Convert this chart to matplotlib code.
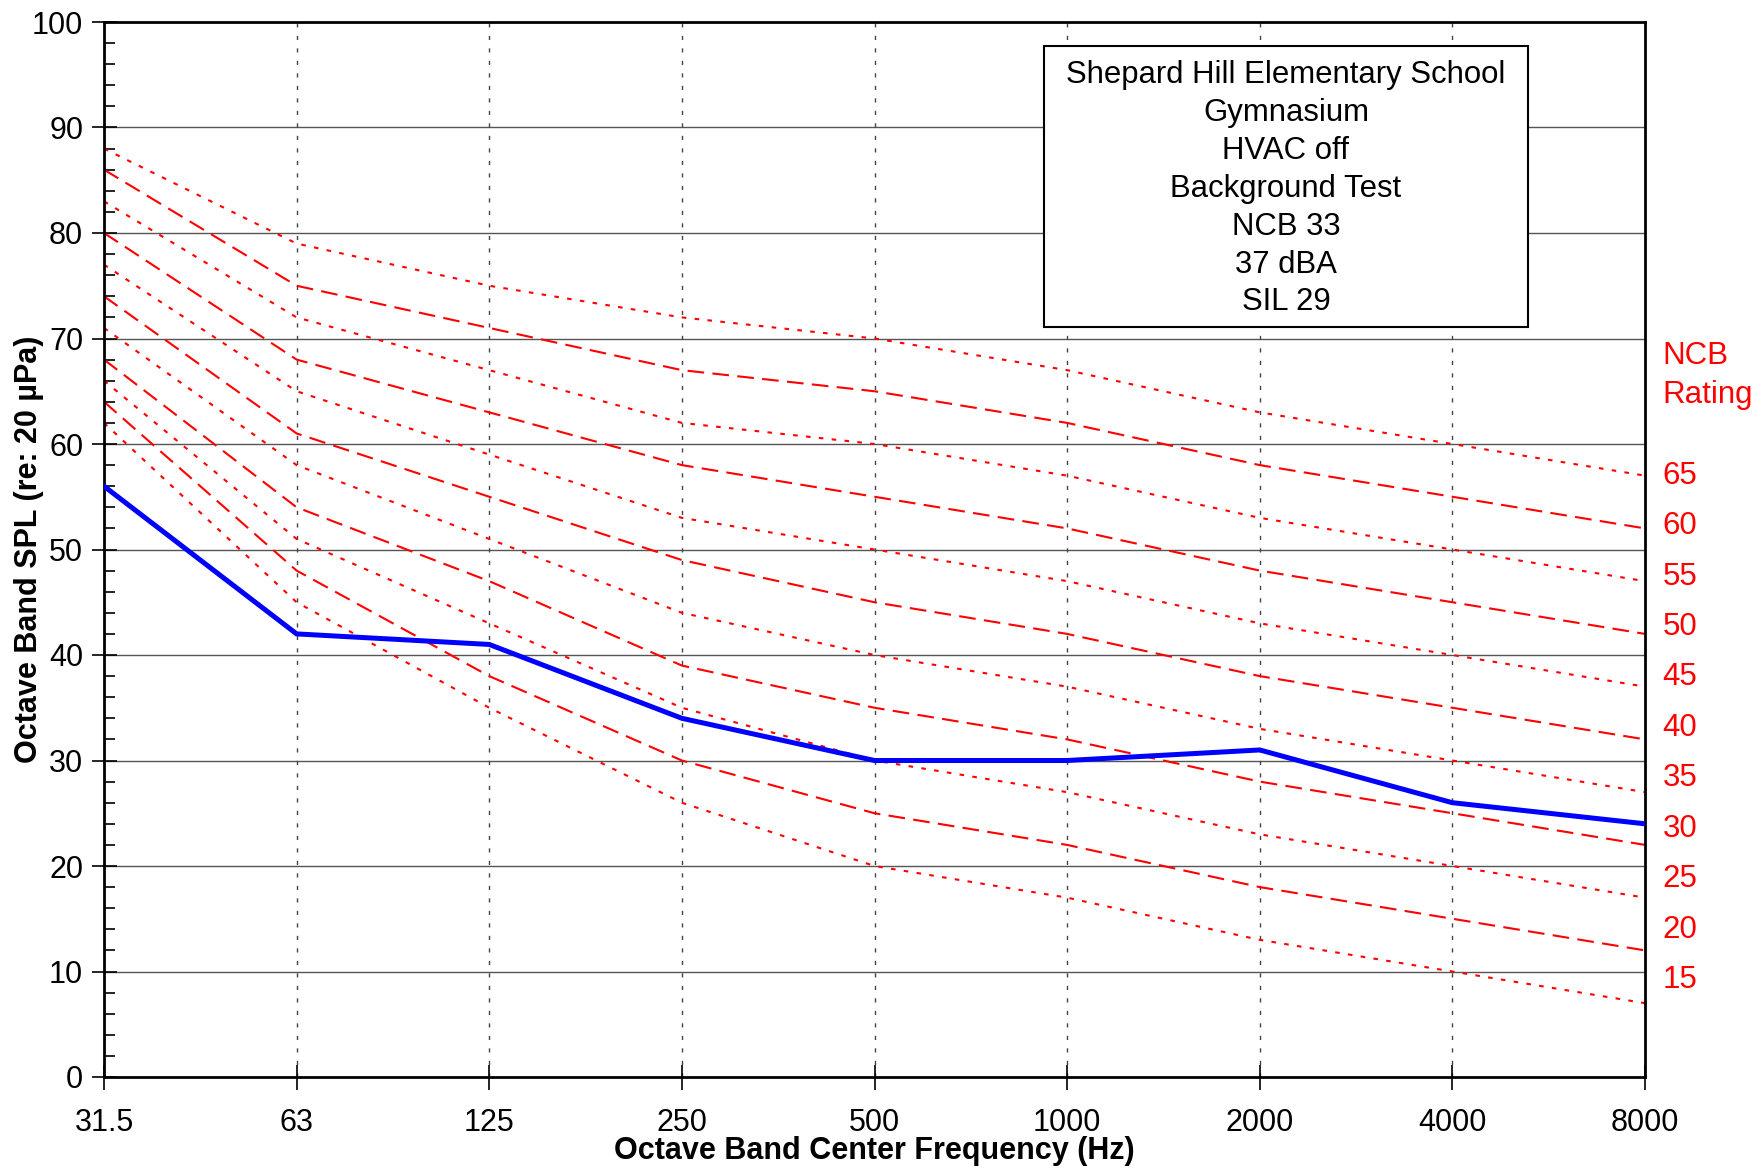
import matplotlib
matplotlib.use("Agg")
import matplotlib.pyplot as plt
from matplotlib.patches import Rectangle
from matplotlib.ticker import MultipleLocator

plt.rcParams['font.family'] = ['Liberation Sans', 'DejaVu Sans']

freq_labels = ["31.5", "63", "125", "250", "500", "1000", "2000", "4000", "8000"]
measured = [56, 42, 41, 34, 30, 30, 31, 26, 24]

ncb_levels = [65, 60, 55, 50, 45, 40, 35, 30, 25, 20, 15]
ncb65 = [88, 79, 75, 72, 70, 67, 63, 60, 57]
ncb60 = [86, 75, 71, 67, 65, 62, 58, 55, 52]
ncb55 = [83, 72, 67, 62, 60, 57, 53, 50, 47]
ncb50 = [80, 68, 63, 58, 55, 52, 48, 45, 42]
ncb45 = [77, 65, 59, 53, 50, 47, 43, 40, 37]
ncb40 = [74, 61, 55, 49, 45, 42, 38, 35, 32]
ncb35 = [71, 58, 51, 44, 40, 37, 33, 30, 27]
ncb30 = [68, 54, 47, 39, 35, 32, 28, 25, 22]
ncb25 = [66, 51, 43, 35, 30, 27, 23, 20, 17]
ncb20 = [64, 48, 38, 30, 25, 22, 18, 15, 12]
ncb15 = [62, 45, 35, 26, 20, 17, 13, 10, 7]
ncb_curves = [ncb65, ncb60, ncb55, ncb50, ncb45, ncb40, ncb35, ncb30, ncb25, ncb20, ncb15]

info_lines = ["Shepard Hill Elementary School", "Gymnasium", "HVAC off",
              "Background Test", "NCB 33", "37 dBA", "SIL 29"]

fig = plt.figure(figsize=(17.54, 11.68), dpi=100)
ax = fig.add_axes([104/1754, 1 - 1077/1168, (1645-104)/1754, (1077-22)/1168])

x = list(range(len(freq_labels)))

# grid
for yv in range(10, 100, 10):
    ax.axhline(yv, color='#555555', lw=1.0, zorder=1)
for xv in x[1:-1]:
    ax.axvline(xv, color='#444444', lw=1.0, ls=(0, (3, 6)), zorder=1)

for lvl, curve in zip(ncb_levels, ncb_curves):
    if lvl % 10 == 0:
        ax.plot(x, curve, color='#ff0000', lw=1.5, ls=(0, (8, 4)), zorder=2)
    else:
        ax.plot(x, curve, color='#ff0000', lw=1.5, ls=(0, (2.2, 4.0)), zorder=2)

ax.plot(x, measured, color='#0000ff', lw=3.6, zorder=3, solid_joinstyle='miter')

ax.set_xlim(0, len(freq_labels) - 1)
ax.set_ylim(0, 100)
ax.set_xticks(x)
ax.set_xticklabels(freq_labels)
ax.yaxis.set_major_locator(MultipleLocator(10))
ax.yaxis.set_minor_locator(MultipleLocator(2))

ax.tick_params(axis='both', which='major', direction='inout', length=18, width=1.2,
               labelsize=22, colors='black')
ax.tick_params(axis='y', which='major', pad=6)
ax.tick_params(axis='x', which='major', pad=13)
ax.tick_params(axis='y', which='minor', direction='in', length=8, width=1.2)

for s in ax.spines.values():
    s.set_linewidth(2.0)
    s.set_color('black')

ax.set_xlabel("Octave Band Center Frequency (Hz)", fontsize=22, fontweight='bold')
ax.set_ylabel("Octave Band SPL (re: 20 µPa)", fontsize=22, fontweight='bold')
ax.xaxis.set_label_coords(0.5, -0.056)
ax.xaxis.label.set_va('top')
ax.yaxis.set_label_coords(-0.039, 0.5)

# info box
ax.add_patch(Rectangle((0.610, 0.711), 0.314, 0.266, transform=ax.transAxes,
                       facecolor='white', edgecolor='black', lw=1.5, zorder=4))
ax.text(0.767, 0.842, "\n".join(info_lines), transform=ax.transAxes,
        ha='center', va='center', multialignment='center', fontsize=22.4,
        linespacing=1.345, zorder=5)

# NCB rating labels
tx = 1.0115
ax.text(tx, 66.5, "NCB\nRating", transform=ax.get_yaxis_transform(),
        ha='left', va='center', color='#ff0000', fontsize=22.5, linespacing=1.37,
        clip_on=False)
for i, lvl in enumerate(ncb_levels):
    ax.text(tx, 57.0 - 4.78 * i, str(lvl), transform=ax.get_yaxis_transform(),
            ha='left', va='center', color='#ff0000', fontsize=22.5, clip_on=False)

fig.savefig("out.png", dpi=100)
